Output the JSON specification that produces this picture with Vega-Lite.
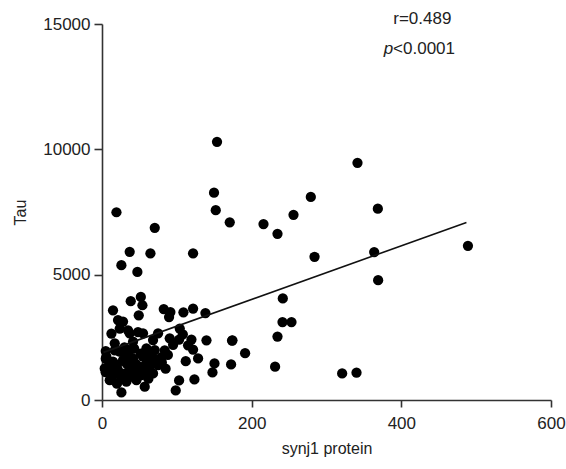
{
  "$schema": "https://vega.github.io/schema/vega-lite/v6.json",
  "autosize": "none",
  "width": 449,
  "height": 376,
  "padding": {"left": 102, "top": 24, "right": 15, "bottom": 69},
  "config": {"view": {"stroke": null}, "font": "Liberation Sans"},
  "datasets": {
    "pts": [
      {"synj1": 153.7, "tau": 10300}, {"synj1": 149.7, "tau": 8270}, {"synj1": 152, "tau": 7570},
      {"synj1": 170.7, "tau": 7090}, {"synj1": 215.8, "tau": 7020}, {"synj1": 234.5, "tau": 6630},
      {"synj1": 255.9, "tau": 7390}, {"synj1": 279, "tau": 8100}, {"synj1": 341.4, "tau": 9460},
      {"synj1": 368.6, "tau": 7630}, {"synj1": 363.7, "tau": 5900}, {"synj1": 369, "tau": 4780},
      {"synj1": 284, "tau": 5710}, {"synj1": 241.6, "tau": 4050}, {"synj1": 241.2, "tau": 3110},
      {"synj1": 253.2, "tau": 3110}, {"synj1": 234.5, "tau": 2530}, {"synj1": 231.3, "tau": 1330},
      {"synj1": 320.9, "tau": 1060}, {"synj1": 340.1, "tau": 1090}, {"synj1": 489, "tau": 6150},
      {"synj1": 191.2, "tau": 1870}, {"synj1": 173.8, "tau": 2370}, {"synj1": 172.5, "tau": 1420},
      {"synj1": 147.6, "tau": 1100}, {"synj1": 150.3, "tau": 1460}, {"synj1": 139.6, "tau": 2380},
      {"synj1": 123.5, "tau": 820}, {"synj1": 111.9, "tau": 1550}, {"synj1": 128.4, "tau": 1660},
      {"synj1": 108.8, "tau": 3500}, {"synj1": 121.7, "tau": 3650}, {"synj1": 138.2, "tau": 3470},
      {"synj1": 108, "tau": 2620}, {"synj1": 119.5, "tau": 2410}, {"synj1": 121.7, "tau": 2010},
      {"synj1": 121.7, "tau": 5850}, {"synj1": 19.3, "tau": 7490}, {"synj1": 70.5, "tau": 6870},
      {"synj1": 37, "tau": 5910}, {"synj1": 64.7, "tau": 5850}, {"synj1": 25.9, "tau": 5380},
      {"synj1": 47.3, "tau": 5110}, {"synj1": 38.4, "tau": 3940}, {"synj1": 51.9, "tau": 4110},
      {"synj1": 54, "tau": 3780}, {"synj1": 49.1, "tau": 3380}, {"synj1": 14.7, "tau": 3580},
      {"synj1": 82.5, "tau": 3630}, {"synj1": 91.4, "tau": 3510}, {"synj1": 89.6, "tau": 3310},
      {"synj1": 21.4, "tau": 3190}, {"synj1": 28.1, "tau": 3130}, {"synj1": 12.6, "tau": 2650},
      {"synj1": 23.7, "tau": 2850}, {"synj1": 34.8, "tau": 2780}, {"synj1": 48.1, "tau": 2710},
      {"synj1": 103.9, "tau": 2850}, {"synj1": 103, "tau": 2410}, {"synj1": 90.5, "tau": 2460},
      {"synj1": 174.3, "tau": 2380}, {"synj1": 115, "tau": 2180}, {"synj1": 83.8, "tau": 1980},
      {"synj1": 79.4, "tau": 1710}, {"synj1": 103, "tau": 780}, {"synj1": 98.5, "tau": 380},
      {"synj1": 72.7, "tau": 1580}, {"synj1": 37, "tau": 2660}, {"synj1": 54.8, "tau": 2660},
      {"synj1": 74.9, "tau": 2660}, {"synj1": 17, "tau": 2260}, {"synj1": 41.5, "tau": 2330},
      {"synj1": 68.2, "tau": 2390}, {"synj1": 5.9, "tau": 1730}, {"synj1": 23.7, "tau": 1930},
      {"synj1": 37, "tau": 1990}, {"synj1": 59.4, "tau": 2060}, {"synj1": 70.5, "tau": 1990},
      {"synj1": 3.6, "tau": 1260}, {"synj1": 14.7, "tau": 1530}, {"synj1": 28.1, "tau": 1590},
      {"synj1": 41.5, "tau": 1660}, {"synj1": 54.8, "tau": 1730}, {"synj1": 68.2, "tau": 1660},
      {"synj1": 8, "tau": 1130}, {"synj1": 21.4, "tau": 1190}, {"synj1": 37, "tau": 1260},
      {"synj1": 50.4, "tau": 1330}, {"synj1": 63.8, "tau": 1330}, {"synj1": 74.9, "tau": 1390},
      {"synj1": 10.3, "tau": 790}, {"synj1": 25.9, "tau": 860}, {"synj1": 39.3, "tau": 930},
      {"synj1": 52.7, "tau": 990}, {"synj1": 68.2, "tau": 1060}, {"synj1": 32.6, "tau": 730},
      {"synj1": 46, "tau": 790}, {"synj1": 25.9, "tau": 300}, {"synj1": 57.1, "tau": 530},
      {"synj1": 14.7, "tau": 980}, {"synj1": 17, "tau": 1980}, {"synj1": 5, "tau": 1650},
      {"synj1": 4.9, "tau": 1110}, {"synj1": 30, "tau": 2100}, {"synj1": 45, "tau": 1450},
      {"synj1": 60, "tau": 1500}, {"synj1": 85, "tau": 1250},
      {"synj1": 10, "tau": 1450}, {"synj1": 20, "tau": 1400}, {"synj1": 33, "tau": 1450},
      {"synj1": 47, "tau": 1150}, {"synj1": 58, "tau": 1150}, {"synj1": 30, "tau": 1050},
      {"synj1": 15, "tau": 1300}, {"synj1": 43, "tau": 2050}, {"synj1": 52, "tau": 1850},
      {"synj1": 62, "tau": 1850}, {"synj1": 80, "tau": 1500}, {"synj1": 88, "tau": 1800},
      {"synj1": 95, "tau": 2200}, {"synj1": 5, "tau": 1950}, {"synj1": 32, "tau": 1800},
      {"synj1": 62, "tau": 850}, {"synj1": 20, "tau": 650}
    ],
    "fit": [
      {"synj1": 2, "tau": 1900},
      {"synj1": 487, "tau": 7080}
    ],
    "notes": [
      {"synj1": 428, "tau": 15200, "label": "r=0.489"}
    ],
    "pnote1": [{"synj1": 389, "tau": 14000, "label": "p"}],
    "pnote2": [{"synj1": 389, "tau": 14000, "label": "<0.0001"}]
  },
  "layer": [
    {
      "data": {"name": "pts"},
      "mark": {"type": "point", "filled": true, "shape": "circle", "size": 105, "color": "#000000", "opacity": 1},
      "encoding": {
        "x": {
          "field": "synj1", "type": "quantitative",
          "scale": {"domain": [0, 600], "nice": false, "zero": true},
          "axis": {
            "title": "synj1 protein", "values": [0, 200, 400, 600], "format": "d", "grid": false,
            "domainColor": "#333333", "domainWidth": 1.6, "tickColor": "#333333", "tickWidth": 1.6,
            "tickSize": 7, "labelPadding": 8, "labelFontSize": 17, "labelColor": "#222222",
            "labelFont": "Liberation Sans", "titleFont": "Liberation Sans", "titleFontSize": 16,
            "titleFontWeight": "normal", "titleColor": "#222222", "titlePadding": 9, "labelFlush": false
          }
        },
        "y": {
          "field": "tau", "type": "quantitative",
          "scale": {"domain": [0, 15000], "nice": false},
          "axis": {
            "title": "Tau", "values": [0, 5000, 10000, 15000], "format": "d", "grid": false,
            "domainColor": "#333333", "domainWidth": 1.6, "tickColor": "#333333", "tickWidth": 1.6,
            "tickSize": 8, "labelPadding": 4, "labelFontSize": 17, "labelColor": "#222222",
            "labelFont": "Liberation Sans", "titleFont": "Liberation Sans", "titleFontSize": 16,
            "titleFontWeight": "normal", "titleColor": "#222222", "titlePadding": 14, "labelFlush": false
          }
        }
      }
    },
    {
      "data": {"name": "fit"},
      "mark": {"type": "line", "color": "#111111", "strokeWidth": 1.6},
      "encoding": {
        "x": {"field": "synj1", "type": "quantitative"},
        "y": {"field": "tau", "type": "quantitative"}
      }
    },
    {
      "data": {"name": "notes"},
      "mark": {"type": "text", "fontSize": 17, "font": "Liberation Sans", "color": "#222222", "align": "center", "baseline": "middle"},
      "encoding": {
        "x": {"field": "synj1", "type": "quantitative"},
        "y": {"field": "tau", "type": "quantitative"},
        "text": {"field": "label"}
      }
    },
    {
      "data": {"name": "pnote1"},
      "mark": {"type": "text", "fontSize": 17, "font": "Liberation Sans", "fontStyle": "italic", "color": "#222222", "align": "right", "baseline": "middle"},
      "encoding": {
        "x": {"field": "synj1", "type": "quantitative"},
        "y": {"field": "tau", "type": "quantitative"},
        "text": {"field": "label"}
      }
    },
    {
      "data": {"name": "pnote2"},
      "mark": {"type": "text", "fontSize": 17, "font": "Liberation Sans", "color": "#222222", "align": "left", "baseline": "middle"},
      "encoding": {
        "x": {"field": "synj1", "type": "quantitative"},
        "y": {"field": "tau", "type": "quantitative"},
        "text": {"field": "label"}
      }
    }
  ]
}
